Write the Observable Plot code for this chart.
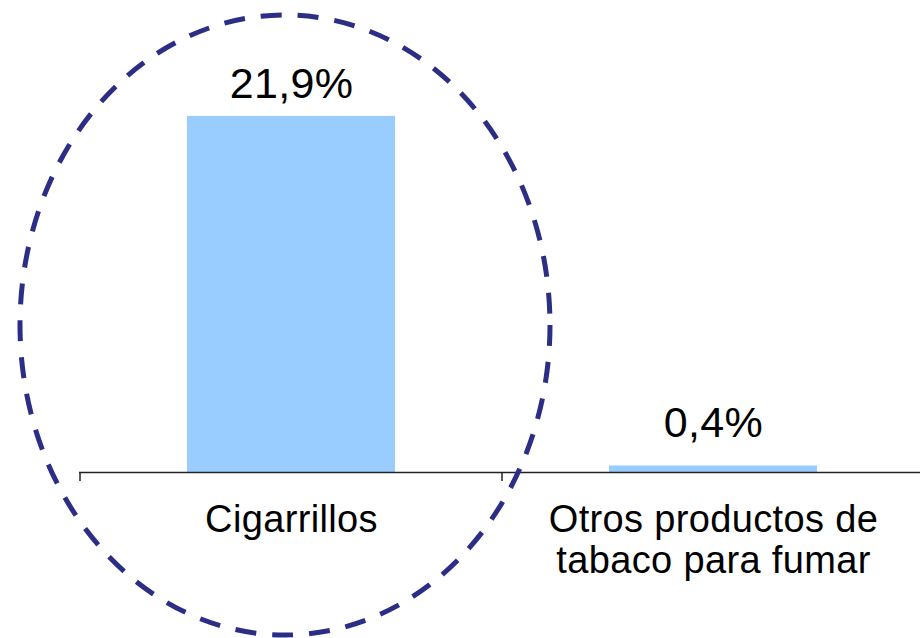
<!DOCTYPE html>
<html><head><meta charset="utf-8">
<script src="https://cdn.jsdelivr.net/npm/d3@7"></script>
<script src="https://cdn.jsdelivr.net/npm/@observablehq/plot@0.6"></script>
<style>body{margin:0;background:#fff}</style>
</head><body><div id="chart"></div>
<script>
const categories = ["Cigarrillos", "Otros productos de tabaco para fumar"];
const values = [21.9, 0.4];
const valueLabels = ["21,9%", "0,4%"];
const tickLabels = ["Cigarrillos", "Otros productos de\ntabaco para fumar"];
const highlighted = "Cigarrillos";
const highlightCenterValue = 9.04;

const data = categories.map((c, i) => ({category: c, value: values[i], label: valueLabels[i], tick: tickLabels[i]}));

const font = "'Liberation Sans', Arial, Helvetica, sans-serif";

function bandEdgeTicks(index, scales, vals, dims) {
  const g = d3.create("svg:g");
  const y0 = dims.height - dims.marginBottom;
  for (const c of categories) {
    const x = scales.x(c);
    g.append("line").attr("x1", x).attr("x2", x).attr("y1", y0).attr("y2", y0 + 9)
      .attr("stroke", "#222").attr("stroke-width", 1.5);
  }
  return g.node();
}
function highlightEllipse(index, scales, vals, dims) {
  const bw = typeof scales.x.bandwidth === "function" ? scales.x.bandwidth() : scales.x.bandwidth;
  const cx = scales.x(highlighted) + bw / 2 - 6;
  const cy = scales.y(highlightCenterValue);
  return d3.create("svg:ellipse").attr("cx", cx).attr("cy", cy).attr("rx", 265).attr("ry", 310)
    .attr("fill", "none").attr("stroke", "#2c2e86").attr("stroke-width", 5)
    .attr("stroke-dasharray", "21 16").node();
}

const chart = Plot.plot({
  width: 920,
  height: 638,
  marginTop: 0,
  marginLeft: 79,
  marginRight: -4,
  marginBottom: 166,
  style: {fontFamily: font, background: "#fff", color: "#000", overflow: "visible", letterSpacing: "0.035em"},
  x: {domain: categories, padding: 0, axis: null},
  y: {domain: [0, 29.03], axis: null},
  marks: [
    Plot.barY(data, {x: "category", y: "value", fill: "#99ccff", insetLeft: 107, insetRight: 107}),
    Plot.ruleY([0], {stroke: "#222", strokeWidth: 1.5}),
    bandEdgeTicks,
    Plot.text(data.slice(0, 1), {x: "category", y: "value", text: "label", lineAnchor: "bottom", dy: -18, fontSize: 43, fill: "#000"}),
    Plot.text(data.slice(1), {x: "category", y: "value", text: "label", lineAnchor: "bottom", dy: -29, fontSize: 43, fill: "#000"}),
    Plot.text(data, {x: "category", text: "tick", frameAnchor: "bottom", lineAnchor: "top", dy: 30, fontSize: 38, lineHeight: 1.08, fill: "#000"}),
    highlightEllipse
  ]
});
document.getElementById("chart").appendChild(chart);
</script>
</body></html>
